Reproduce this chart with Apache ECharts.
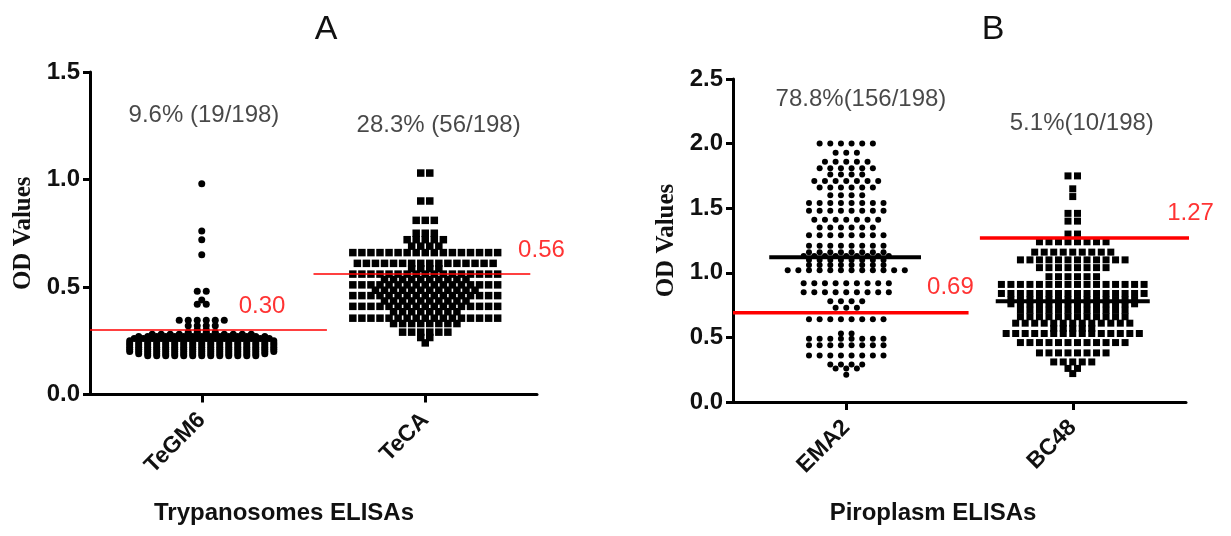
<!DOCTYPE html>
<html>
<head>
<meta charset="utf-8">
<script src="https://cdn.jsdelivr.net/npm/echarts@6/dist/echarts.min.js"></script>
<style>
  html, body { margin: 0; background: #fff; }
  #chart { width: 1231px; height: 536px; }
</style>
</head>
<body>
<div id="chart"></div>
<script>
// categories
const trypCats = ['TeGM6', 'TeCA'];
const piroCats = ['EMA2', 'BC48'];

// dot plot rows: OD level of a row, and how many sera sit on it
const tegm6Levels = [0.98, 0.76, 0.72, 0.65, 0.48, 0.44, 0.42, 0.345, 0.32, 0.30, 0.29, 0.28, 0.27, 0.26, 0.25, 0.24, 0.23, 0.22, 0.21, 0.20, 0.19, 0.18];
const tegm6Counts = [1, 1, 1, 1, 2, 1, 2, 6, 4, 2, 4, 12, 15, 16, 17, 17, 17, 17, 17, 17, 15, 13];

const tecaLevels = [1.03, 0.90, 0.81, 0.75, 0.72, 0.69, 0.66, 0.61, 0.585, 0.56, 0.535, 0.51, 0.485, 0.46, 0.435, 0.41, 0.385, 0.355, 0.33, 0.29, 0.265, 0.24];
const tecaCounts = [2, 2, 3, 3, 5, 4, 17, 16, 4, 17, 10, 17, 12, 17, 10, 17, 8, 17, 8, 6, 2, 1];

const ema2Levels = [2.00, 1.93, 1.86, 1.81, 1.76, 1.71, 1.66, 1.60, 1.54, 1.48, 1.41, 1.35, 1.29, 1.21, 1.16, 1.13, 1.10, 1.06, 1.02, 0.92, 0.85, 0.78, 0.73, 0.64, 0.53, 0.49, 0.44, 0.36, 0.29, 0.26, 0.21];
const ema2Counts = [6, 3, 5, 6, 4, 7, 6, 4, 8, 8, 7, 6, 8, 8, 8, 9, 8, 8, 12, 9, 9, 4, 3, 8, 2, 8, 8, 8, 4, 3, 1];

const bc48Levels = [1.75, 1.65, 1.59, 1.46, 1.40, 1.30, 1.24, 1.16, 1.10, 1.04, 0.97, 0.91, 0.84, 0.79, 0.76, 0.71, 0.66, 0.61, 0.57, 0.53, 0.46, 0.38, 0.31, 0.26, 0.22];
const bc48Counts = [2, 1, 1, 2, 2, 2, 8, 9, 12, 8, 6, 16, 16, 14, 14, 12, 12, 13, 5, 15, 12, 8, 5, 2, 1];

// cut-offs, medians and positivity texts
const cutoffsA = [0.30, 0.56];
const cutoffsB = [0.69, 1.27];
const mediansB = [1.12, 0.78];
const positivityA = ['9.6% (19/198)', '28.3% (56/198)'];
const positivityB = ['78.8%(156/198)', '5.1%(10/198)'];

// where the lines and texts sit along the hidden 0..2 x scale (category centres at 0.5 / 1.5)
const cutSpanA = [[0, 1.06], [1.0, 1.97]];
const cutSpanB = [[0, 1.04], [1.09, 2.06]];
const cutTextX_A = [0.77, 2.02];
const cutTextX_B = [0.96, 2.02];
const medianSpanB = [[0.16, 0.83], [1.16, 1.84]];
const posTextA = [[0.51, 1.30], [1.56, 1.25]];
const posTextB = [[0.565, 2.34], [1.54, 2.16]];

const FONT = '"Liberation Sans", Arial, sans-serif';
const RED = '#ff0000';

// lay a row of dots side by side around the category centre
function swarm(levels, counts, center, step) {
  const pts = [];
  levels.forEach((v, r) => {
    const n = counts[r];
    for (let i = 0; i < n; i++) {
      pts.push([center + (i - (n - 1) / 2) * step, v]);
    }
  });
  return pts;
}

function dots(xAxisIndex, yAxisIndex, data, symbol, size) {
  return {
    type: 'scatter', xAxisIndex, yAxisIndex, data, symbol, symbolSize: size,
    itemStyle: { color: '#000', opacity: 1 }, silent: true, z: 2
  };
}

function hline(xAxisIndex, yAxisIndex, span, y, color, width) {
  return {
    type: 'line', xAxisIndex, yAxisIndex, data: [[span[0], y], [span[1], y]],
    symbol: 'none', clip: false, silent: true, z: 5,
    lineStyle: { color, width }
  };
}

function textMarks(xAxisIndex, yAxisIndex, items, style) {
  return {
    type: 'scatter', xAxisIndex, yAxisIndex, symbolSize: 0, silent: true, clip: false, z: 6,
    data: items.map(it => ({ value: it.value, name: it.text })),
    label: Object.assign({ show: true, formatter: '{b}', fontFamily: FONT }, style)
  };
}

function valueY(gridIndex, max) {
  return {
    type: 'value', gridIndex, min: 0, max, interval: 0.5,
    name: 'OD Values', nameLocation: 'middle', nameGap: 54,
    nameTextStyle: { fontFamily: '"Liberation Serif", "Times New Roman", serif', fontWeight: 'bold', fontSize: 25, color: '#111' },
    axisLine: { show: true, lineStyle: { color: '#000', width: 3 } },
    axisTick: { show: true, length: 7, lineStyle: { color: '#000', width: 3 } },
    axisLabel: { formatter: v => v.toFixed(1), fontFamily: FONT, fontWeight: 'bold', fontSize: 24, color: '#111', margin: 10 },
    splitLine: { show: false }
  };
}

function catX(gridIndex, data) {
  return {
    type: 'category', gridIndex, data, boundaryGap: true,
    axisLine: { show: true, onZero: false, lineStyle: { color: '#000', width: 3 } },
    axisTick: { show: true, alignWithLabel: true, length: 8, lineStyle: { color: '#000', width: 3 } },
    axisLabel: { rotate: 45, fontFamily: FONT, fontWeight: 'bold', fontSize: 23, color: '#111', margin: 22 }
  };
}

function hiddenX(gridIndex) {
  return { type: 'value', gridIndex, min: 0, max: 2, show: false };
}

const chart = echarts.init(document.getElementById('chart'));

const series = [
  dots(1, 0, swarm(tegm6Levels, tegm6Counts, 0.5, 0.0403), 'circle', 7),
  dots(1, 0, swarm(tecaLevels, tecaCounts, 1.5, 0.0405), 'rect', 7.5),
  dots(3, 1, swarm(ema2Levels, ema2Counts, 0.5, 0.047), 'circle', 6),
  dots(3, 1, swarm(bc48Levels, bc48Counts, 1.5, 0.0420), 'rect', 7)
];

cutoffsA.forEach((c, i) => series.push(hline(1, 0, cutSpanA[i], c, RED, 1.5)));
cutoffsB.forEach((c, i) => series.push(hline(3, 1, cutSpanB[i], c, RED, 3.5)));
mediansB.forEach((m, i) => series.push(hline(3, 1, medianSpanB[i], m, '#000', 4)));

series.push(textMarks(1, 0,
  cutoffsA.map((c, i) => ({ value: [cutTextX_A[i], c], text: c.toFixed(2) })),
  { position: 'top', distance: 12, color: RED, fontSize: 24 }));
series.push(textMarks(3, 1,
  cutoffsB.map((c, i) => ({ value: [cutTextX_B[i], c], text: c.toFixed(2) })),
  { position: 'top', distance: 13, color: RED, fontSize: 24 }));
series.push(textMarks(1, 0,
  positivityA.map((t, i) => ({ value: posTextA[i], text: t })),
  { position: 'inside', color: '#1a1a1a', fontSize: 24 }));
series.push(textMarks(3, 1,
  positivityB.map((t, i) => ({ value: posTextB[i], text: t })),
  { position: 'inside', color: '#1a1a1a', fontSize: 24 }));

chart.setOption({
  animation: false,
  backgroundColor: '#fff',
  grid: [
    { left: 90, right: 694, top: 72, bottom: 141.5 },
    { left: 733, right: 45, top: 79, bottom: 134 }
  ],
  xAxis: [catX(0, trypCats), hiddenX(0), catX(1, piroCats), hiddenX(1)],
  yAxis: [valueY(0, 1.5), valueY(1, 2.5)],
  graphic: [
    { type: 'text', x: 326, y: 30, style: { text: 'A', fontFamily: FONT, fontSize: 34, fill: '#111', textAlign: 'center', textVerticalAlign: 'middle' } },
    { type: 'text', x: 993, y: 30, style: { text: 'B', fontFamily: FONT, fontSize: 34, fill: '#111', textAlign: 'center', textVerticalAlign: 'middle' } },
    { type: 'text', x: 284, y: 513, style: { text: 'Trypanosomes ELISAs', fontFamily: FONT, fontWeight: 'bold', fontSize: 24, fill: '#111', textAlign: 'center', textVerticalAlign: 'middle' } },
    { type: 'text', x: 933, y: 513, style: { text: 'Piroplasm ELISAs', fontFamily: FONT, fontWeight: 'bold', fontSize: 24, fill: '#111', textAlign: 'center', textVerticalAlign: 'middle' } }
  ],
  series
});
</script>
</body>
</html>
